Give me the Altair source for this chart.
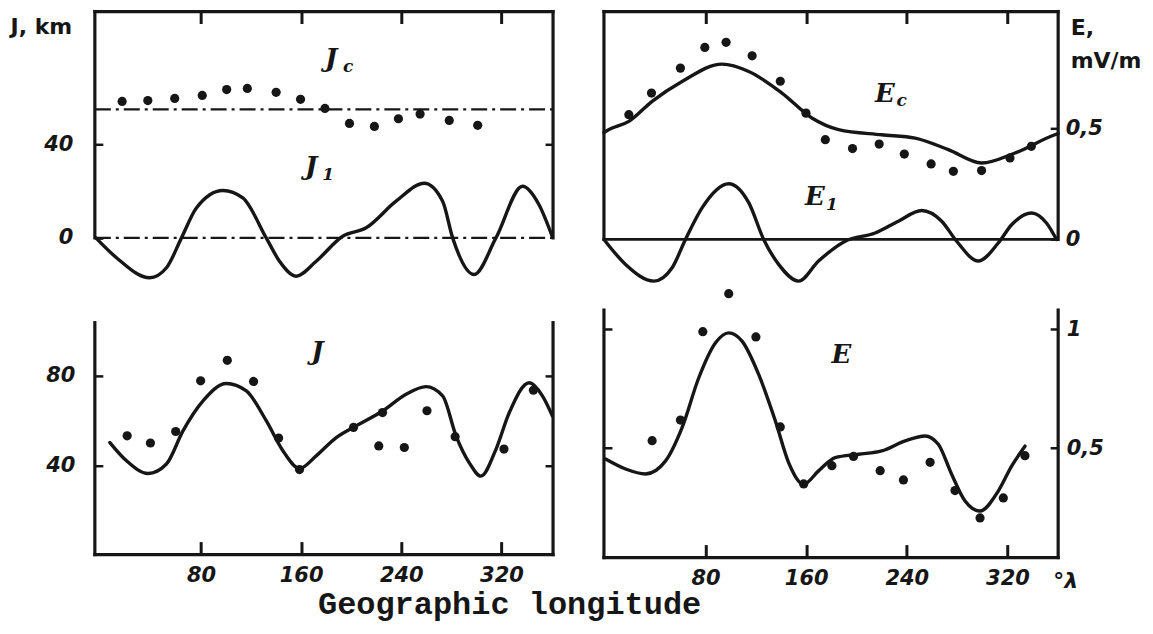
import altair as alt
import pandas as pd

# ---------------- values (longitude in degrees) ----------------
# upper left panel: J1 curve and Jc points (km)
J1_LON = [-4.0, 12.5, 39, 52.4, 64.4, 76.3, 97.5, 113.4, 132.1, 142.7, 156, 172, 193.2,
          211.9, 235.8, 258.4, 273, 281, 298.2, 315.6, 336.8, 350, 360.5]
J1_VAL = [0, -8.5, -17.1, -12.8, 0, 12.8, 20.3, 17.1, 0, -10, -16.4, -10, 0.7,
          4.3, 15.7, 23.4, 15.7, 0, -15.7, 0, 22.1, 14.2, 0.7]
JC_LON = [17, 37.5, 59, 81, 100.5, 117, 140, 159.5, 179, 198.6, 218.5, 237.7, 255, 278.3, 301]
JC_VAL = [58.4, 58.8, 59.7, 61, 63.5, 64, 62.3, 59.3, 55.4, 49, 47.7, 51, 53, 50.3, 48.2]
JC_MEAN = 55

# upper right panel: Ec curve, Ec points, E1 curve (mV/m)
EC_LON = [-0.8, 3.2, 19, 37.5, 61.3, 93.1, 114.3, 140.7, 164.5, 185.7, 220, 246.6, 273,
          299.4, 326, 357.7, 360.3]
EC_VAL = [0.48, 0.493, 0.530, 0.620, 0.709, 0.787, 0.754, 0.657, 0.545, 0.493, 0.470, 0.455,
          0.403, 0.343, 0.388, 0.470, 0.475]
ECP_LON = [19, 37, 60, 79.4, 96.3, 117, 139.4, 159.8, 175.2, 196.8, 218, 238, 259.3, 277,
           299.4, 322, 339]
ECP_VAL = [0.560, 0.657, 0.769, 0.862, 0.885, 0.824, 0.710, 0.567, 0.448, 0.408, 0.428, 0.383,
           0.339, 0.306, 0.309, 0.366, 0.418]
E1_LON = [-0.8, 16.4, 38.9, 53.4, 64, 77.2, 98.4, 114.3, 126.2, 138.1, 154, 169.8, 191, 214.8,
          233.3, 251.8, 267.7, 279.6, 296.8, 312.7, 323.3, 339.1, 351, 359]
E1_VAL = [0, -0.112, -0.187, -0.127, 0, 0.142, 0.250, 0.165, 0, -0.112, -0.187, -0.097, -0.008,
          0.029, 0.082, 0.130, 0.082, -0.008, -0.097, -0.016, 0.066, 0.119, 0.074, 0]

# lower left panel: J curve and points (km)
J_LON = [7.2, 20.5, 37.7, 52.4, 65.6, 81.6, 100.2, 116.2, 132.1, 145.4, 158.7, 172, 188, 203.9,
         225.1, 243.8, 259.7, 273, 283.7, 294.3, 303.6, 315.6, 326.2, 342.2, 352.7, 360.7]
J_VAL = [50.4, 42.3, 36.7, 40.9, 55.6, 68.9, 76.6, 73.3, 60.1, 46.8, 38.9, 44.5, 52.6, 57.8,
         64.4, 71.8, 75.2, 71.1, 53.4, 41.4, 35.5, 47.4, 63.6, 76.9, 71.1, 62.2]
JP_LON = [21, 39.6, 59.8, 79.7, 101, 122, 142, 158.7, 201.8, 222, 225, 242.4, 260.5, 283, 322, 345.5]
JP_VAL = [53.4, 50.2, 55.3, 77.8, 86.9, 77.5, 52.4, 38.4, 57.1, 48.9, 63.7, 48.2, 64.5, 53, 47.5, 73.6]

# lower right panel: E curve and points (mV/m)
E_LON = [0.5, 16.4, 32.3, 48.2, 61.3, 74.6, 87.9, 98.4, 109, 122.2, 135.5, 146, 158, 169.8, 183,
         201.6, 220, 238.7, 254.5, 265, 275.6, 286.3, 298.2, 312.7, 323.3, 333.9]
E_VAL = [0.454, 0.412, 0.391, 0.446, 0.586, 0.796, 0.943, 0.985, 0.950, 0.810, 0.614, 0.439,
         0.348, 0.404, 0.460, 0.474, 0.488, 0.530, 0.551, 0.516, 0.390, 0.277, 0.235, 0.319,
         0.424, 0.508]
EP_LON = [37.5, 60, 77.8, 98.4, 120, 139.4, 158, 180.4, 197.6, 218.8, 237.3, 258.5, 278.3, 298.2,
          316.7, 333.9]
EP_VAL = [0.531, 0.618, 0.990, 1.150, 0.968, 0.589, 0.349, 0.426, 0.465, 0.405, 0.366, 0.440,
          0.321, 0.206, 0.290, 0.468]

X_TICKS = [80, 160, 240, 320]

# panel letters: (letter, subscript, longitude, value)
TL_LETTERS = [("J", "c", 184, 76.4), ("J", "1", 168, 30.2)]
TR_LETTERS = [("E", "c", 222.5, 0.655), ("E", "1", 167, 0.19)]
BL_LETTERS = [("J", "", 173, 90.6)]
BR_LETTERS = [("E", "", 188, 0.892)]

# ---------------- style ----------------
INK = "#161616"
NUM = "DejaVu Sans"
SERIF = "DejaVu Serif"
MONO = "Liberation Mono"
LINE_W = 3.4
FRAME_W = 3.2
DOT = 85

LX = [-4.8, 361.2]
RX = [-0.8, 360.3]
TL_Y = [-24.9, 96.9]
TR_Y = [-0.254, 1.023]
BL_Y = [0.7, 115.4]
BR_Y = [0.039, 1.14]
BL_TOP = 103.6
BR_TOP = 1.081
TL_W, TR_W = 459, 455
TOP_H = 285
BL_H, BR_H = 259, 262

ONE = alt.Data(values=[{"k": 0}])
LBL = dict(labelFont=NUM, labelFontSize=21, labelFontWeight="bold",
           labelFontStyle="italic", labelColor=INK)
TCK = dict(tickColor=INK, domain=False, grid=False)


def sc(dom):
    return alt.Scale(domain=dom, nice=False, zero=False)


def seg(x0, x1, y0, y1, xdom, ydom, xax, **mk):
    return alt.Chart(ONE).mark_rule(color=INK, **mk).encode(
        x=alt.XDatum(x0, scale=sc(xdom), axis=xax),
        x2=alt.X2Datum(x1),
        y=alt.YDatum(y0, scale=sc(ydom), axis=None),
        y2=alt.Y2Datum(y1),
    )


def curve(lon, val, xdom, ydom, xax, yax):
    df = pd.DataFrame({"lon": lon, "val": val})
    return alt.Chart(df).mark_line(color=INK, strokeWidth=LINE_W, interpolate="monotone",
                                   strokeCap="round", strokeJoin="round").encode(
        x=alt.X("lon:Q", scale=sc(xdom), axis=xax),
        y=alt.Y("val:Q", scale=sc(ydom), axis=yax),
    )


def dots(lon, val, xdom, ydom, xax, yax):
    df = pd.DataFrame({"lon": lon, "val": val})
    return alt.Chart(df).mark_circle(color=INK, opacity=1, size=DOT).encode(
        x=alt.X("lon:Q", scale=sc(xdom), axis=xax),
        y=alt.Y("val:Q", scale=sc(ydom), axis=yax),
    )


def letters(items, xdom, ydom, xax):
    df = pd.DataFrame(items, columns=["main", "sub", "lon", "val"])
    base = alt.Chart(df).encode(
        x=alt.X("lon:Q", scale=sc(xdom), axis=xax),
        y=alt.Y("val:Q", scale=sc(ydom), axis=None),
    )
    main = base.mark_text(font=SERIF, fontSize=26, fontStyle="italic", fontWeight="bold",
                          color=INK).encode(text="main:N")
    sub = base.mark_text(font=SERIF, fontSize=17, fontStyle="italic", fontWeight="bold",
                         color=INK, dx=17, dy=8).encode(text="sub:N")
    return [main, sub]


X_TOP = alt.Axis(orient="top", values=X_TICKS, offset=-12, tickSize=12, tickWidth=3,
                 labels=False, title=None, **TCK)


def x_bottom(**kw):
    return alt.Axis(orient="bottom", values=X_TICKS, offset=-13, tickSize=13, tickWidth=3,
                    labelPadding=10, labelBaseline="top", **LBL, **TCK, **kw)


def y_axis(orient, values, labels, pad=0, **kw):
    return alt.Axis(orient=orient, values=values, offset=-8, tickSize=8, tickWidth=2.5,
                    labels=labels, labelPadding=pad,
                    labelExpr="replace(format(datum.value, ''), '.', ',')",
                    **LBL, **TCK, **kw)


FRAME = dict(strokeWidth=FRAME_W, strokeCap="square")

# ---------------- upper left ----------------
tl = alt.layer(
    seg(LX[0], LX[1], TL_Y[1], TL_Y[1], LX, TL_Y, X_TOP, **FRAME),
    seg(LX[0], LX[0], 0, TL_Y[1], LX, TL_Y, X_TOP, **FRAME),
    seg(LX[1], LX[1], 0, TL_Y[1], LX, TL_Y, X_TOP, **FRAME),
    seg(LX[0], LX[1], 0, 0, LX, TL_Y, X_TOP, strokeWidth=2.2, strokeDash=[16, 5, 3, 5]),
    seg(LX[0], LX[1], JC_MEAN, JC_MEAN, LX, TL_Y, X_TOP, strokeWidth=2.2,
        strokeDash=[16, 5, 3, 5]),
    curve(J1_LON, J1_VAL, LX, TL_Y, X_TOP,
          y_axis("left", [0, 40], True, pad=22, title="J, km", titleAngle=0,
                 titleAlign="left", titleBaseline="alphabetic", titleX=-93, titleY=22,
                 titleFont=NUM, titleFontSize=22, titleFontWeight="bold", titleColor=INK)),
    dots(JC_LON, JC_VAL, LX, TL_Y, X_TOP, y_axis("right", [40], False, title=None)),
    *letters(TL_LETTERS, LX, TL_Y, X_TOP),
).resolve_axis(y="independent").properties(width=TL_W, height=TOP_H)

# ---------------- upper right ----------------
tr = alt.layer(
    seg(RX[0], RX[1], TR_Y[1], TR_Y[1], RX, TR_Y, X_TOP, **FRAME),
    seg(RX[0], RX[0], 0, TR_Y[1], RX, TR_Y, X_TOP, **FRAME),
    seg(RX[1], RX[1], 0, TR_Y[1], RX, TR_Y, X_TOP, **FRAME),
    seg(RX[0], RX[1], 0, 0, RX, TR_Y, X_TOP, strokeWidth=2.8),
    curve(EC_LON, EC_VAL, RX, TR_Y, X_TOP,
          y_axis("right", [0, 0.5], True, pad=7, title=["E,", "mV/m"], titleAngle=0,
                 titleAlign="left", titleBaseline="alphabetic", titleX=20, titleY=23,
                 titleLineHeight=33, titleFont=NUM, titleFontSize=22, titleFontWeight="bold",
                 titleColor=INK)),
    curve(E1_LON, E1_VAL, RX, TR_Y, X_TOP, None),
    dots(ECP_LON, ECP_VAL, RX, TR_Y, X_TOP, None),
    *letters(TR_LETTERS, RX, TR_Y, X_TOP),
).resolve_axis(y="independent").properties(width=TR_W, height=TOP_H)

# ---------------- lower left ----------------
XB_L = x_bottom(title="Geographic longitude", titleX=415, titleY=72, titleAlign="center",
                titleBaseline="alphabetic", titleFont=MONO, titleFontSize=32,
                titleFontWeight="bold", titleColor=INK)
bl = alt.layer(
    seg(LX[0], LX[1], BL_Y[0], BL_Y[0], LX, BL_Y, XB_L, **FRAME),
    seg(LX[0], LX[0], BL_Y[0], BL_TOP, LX, BL_Y, XB_L, **FRAME),
    seg(LX[1], LX[1], BL_Y[0], BL_TOP, LX, BL_Y, XB_L, **FRAME),
    curve(J_LON, J_VAL, LX, BL_Y, XB_L, y_axis("left", [40, 80], True, pad=20, title=None)),
    dots(JP_LON, JP_VAL, LX, BL_Y, XB_L, y_axis("right", [40, 80], False, title=None)),
    *letters(BL_LETTERS, LX, BL_Y, XB_L),
).resolve_axis(y="independent").properties(width=TL_W, height=BL_H)

# ---------------- lower right ----------------
XB_R = x_bottom(title="°λ", titleX=462, titleY=36, titleAlign="center", titleBaseline="middle",
                titleFont=NUM, titleFontSize=22, titleFontWeight="bold",
                titleFontStyle="italic", titleColor=INK)
br = alt.layer(
    seg(RX[0], RX[1], BR_Y[0], BR_Y[0], RX, BR_Y, XB_R, **FRAME),
    seg(RX[0], RX[0], BR_Y[0], BR_TOP, RX, BR_Y, XB_R, **FRAME),
    seg(RX[1], RX[1], BR_Y[0], BR_TOP, RX, BR_Y, XB_R, **FRAME),
    curve(E_LON, E_VAL, RX, BR_Y, XB_R, y_axis("left", [0.5, 1], False, title=None)),
    dots(EP_LON, EP_VAL, RX, BR_Y, XB_R, y_axis("right", [0.5, 1], True, pad=8, title=None)),
    *letters(BR_LETTERS, RX, BR_Y, XB_R),
).resolve_axis(y="independent").properties(width=TR_W, height=BR_H)

chart = alt.concat(
    tl, tr, bl, br, columns=2, spacing={"row": 0, "column": 51}, bounds="flush", align="each"
).properties(
    padding={"left": 2, "top": 0, "right": 4, "bottom": 4},
    background="white",
).configure_view(stroke=None)

chart.save("out.html", embed_options={"renderer": "svg", "actions": False})
